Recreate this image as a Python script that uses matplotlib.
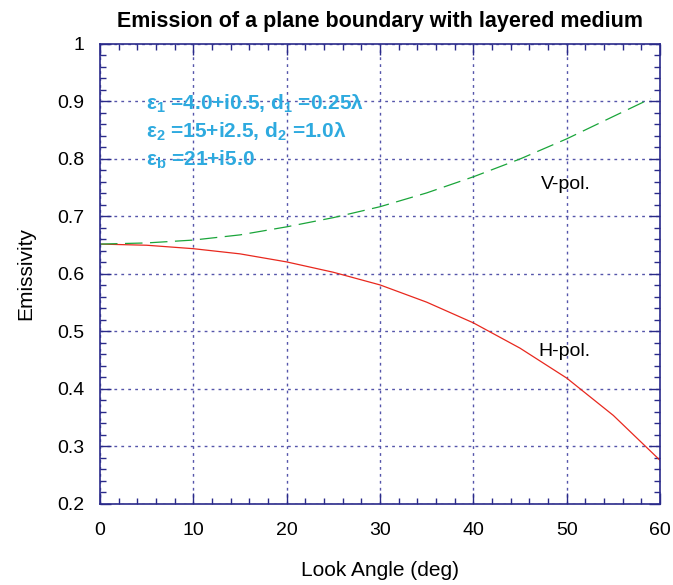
import matplotlib.pyplot as plt
import matplotlib as mpl
import numpy as np
from matplotlib.ticker import MultipleLocator

plt.rcParams['font.family'] = ['Liberation Sans', 'DejaVu Sans']
plt.rcParams['mathtext.fontset'] = 'custom'
plt.rcParams['mathtext.rm'] = 'Liberation Sans:bold'
plt.rcParams['mathtext.bf'] = 'Liberation Sans:bold'
plt.rcParams['mathtext.default'] = 'bf'

angle = [0, 5, 10, 15, 20, 25, 30, 35, 40, 45, 50, 55, 60]
h_pol = [0.652, 0.650, 0.644, 0.635, 0.621, 0.603, 0.581, 0.551, 0.515, 0.471, 0.419, 0.354, 0.276]
v_angle = [0, 5, 10, 15, 20, 25, 30, 35, 40, 45, 50, 55, 59]
v_pol = [0.652, 0.654, 0.659, 0.668, 0.682, 0.698, 0.717, 0.741, 0.769, 0.800, 0.835, 0.874, 0.905]

navy = '#2a2a8a'

fig = plt.figure(figsize=(6.73, 5.85), dpi=100)
ax = fig.add_axes([0.1486, 0.1385, 0.8321, 0.7863])

ax.plot(angle, h_pol, color='#e8281e', lw=0.9)
ax.plot(v_angle, v_pol, color='#1aa53a', lw=0.9, dashes=(14, 6))

ax.set_xlim(0, 60)
ax.set_ylim(0.2, 1.0)
ax.xaxis.set_major_locator(MultipleLocator(10))
ax.xaxis.set_minor_locator(MultipleLocator(2))
ax.yaxis.set_major_locator(MultipleLocator(0.1))
ax.yaxis.set_minor_locator(MultipleLocator(0.02))
ax.set_yticks(np.arange(0.2, 1.01, 0.1), ['0.2', '0.3', '0.4', '0.5', '0.6', '0.7', '0.8', '0.9', '1'])
ax.tick_params(which='both', direction='in', top=True, right=True, color=navy, labelsize=14)
ax.tick_params(axis='x', pad=13)
ax.tick_params(axis='y', pad=11)
ax.tick_params(which='major', length=8, width=1)
ax.tick_params(which='minor', length=4, width=1)
for s in ax.spines.values():
    s.set_color(navy)
    s.set_linewidth(1.2)
ax.grid(True, which='major', color='#5555aa', linestyle=(0, (2, 3)), linewidth=1)

ax.set_title('Emission of a plane boundary with layered medium', fontsize=15.5, fontweight='bold', pad=12)
ax.set_xlabel('Look Angle (deg)', fontsize=15, labelpad=16)
ax.set_ylabel('Emissivity', fontsize=15, labelpad=16)

blue = '#2eaadf'
ax.text(4.9, 0.896, 'ε$_1$ =4.0+i0.5, d$_1$ =0.25λ', color=blue, fontsize=15, fontweight='bold', va='center')
ax.text(4.9, 0.848, 'ε$_2$ =15+i2.5, d$_2$ =1.0λ', color=blue, fontsize=15, fontweight='bold', va='center')
ax.text(4.9, 0.799, 'ε$_b$ =21+i5.0', color=blue, fontsize=15, fontweight='bold', va='center')

ax.text(47.2, 0.755, 'V-pol.', fontsize=14, va='center')
ax.text(47.0, 0.465, 'H-pol.', fontsize=14, va='center')

fig.savefig('out.png', dpi=100)
